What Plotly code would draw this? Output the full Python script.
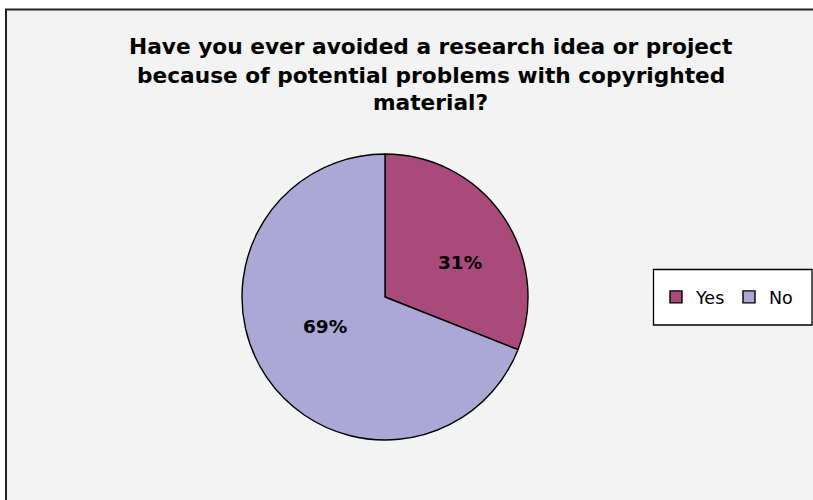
import plotly.graph_objects as go

labels = ["Yes", "No"]
values = [31, 69]
colors = ["#a94a7b", "#aba8d6"]
title_lines = [
    "Have you ever avoided a research idea or project",
    "because of potential problems with copyrighted",
    "material?",
]
pct_text = ["31%", "69%"]

W, H = 813, 500
cx, cy, r = 385, 297, 143

fig = go.Figure(go.Pie(
    labels=labels, values=values, sort=False, direction="clockwise", rotation=0,
    marker=dict(colors=colors, line=dict(color="black", width=1.4)),
    textinfo="none", hoverinfo="label+percent",
    domain=dict(x=[(cx - r) / W, (cx + r) / W], y=[(H - cy - r) / H, (H - cy + r) / H]),
))

# border frame
fig.add_shape(type="rect", xref="paper", yref="paper",
              x0=6 / W, x1=(W + 10) / W, y0=-10 / H, y1=(H - 9.5) / H,
              line=dict(color="#222222", width=2), fillcolor="#f2f3f2", layer="below")
# legend box
fig.add_shape(type="rect", xref="paper", yref="paper",
              x0=653.5 / W, x1=812 / W, y0=(H - 325) / H, y1=(H - 269.5) / H,
              line=dict(color="black", width=1.3), fillcolor="white", layer="below")

for i, t in enumerate(title_lines):
    fig.add_annotation(text=t, xref="paper", yref="paper", x=430.5 / W, y=(H - 47 - 28 * i) / H,
                       showarrow=False, xanchor="center", yanchor="middle",
                       font=dict(family="DejaVu Sans", size=21.7, color="black", weight="bold"))

pos = [(459.5, 262), (324.5, 326.5)]
for t, (px, py) in zip(pct_text, pos):
    fig.add_annotation(text=t, xref="paper", yref="paper", x=px / W, y=(H - py) / H,
                       showarrow=False, xanchor="center", yanchor="middle",
                       font=dict(family="DejaVu Sans", size=18.5, color="black", weight="bold"))

fig.update_layout(
    width=W, height=H, margin=dict(l=0, r=0, t=0, b=0, autoexpand=False),
    paper_bgcolor="white", plot_bgcolor="white",
    showlegend=True,
    legend=dict(orientation="h", x=656 / W, y=(H - 297) / H, xanchor="left", yanchor="middle",
                bgcolor="rgba(0,0,0,0)", borderwidth=0,
                font=dict(family="DejaVu Sans", size=17.5, color="black"),
                itemwidth=30, entrywidth=28),
)

fig.write_html("out.html", config={"displayModeBar": False},
               post_script="document.body.style.margin='0';")
